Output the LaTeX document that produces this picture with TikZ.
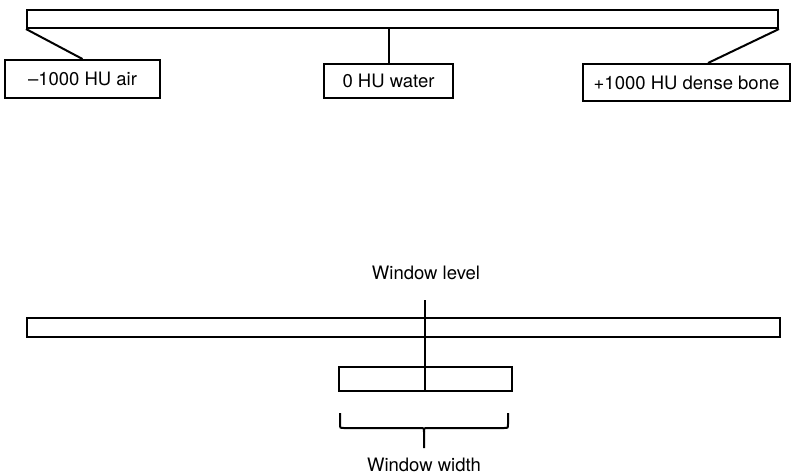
\documentclass[tikz,border=0pt]{standalone}
\usepackage{fontspec}
\setmainfont{TeX Gyre Heros}
\usetikzlibrary{positioning}

\tikzset{
  bar/.style={draw,line width=2pt,inner sep=0pt,minimum height=18pt},
  label box/.style={draw,line width=2pt,inner sep=0pt},
  link/.style={line width=2pt}
}

\begin{document}
\begin{tikzpicture}[x=1pt,y=-1pt,font=\fontsize{18.5}{22}\selectfont]
\useasboundingbox (0,0) rectangle (797,475);

% full CT number scale
\node[bar,minimum width=751pt] (scale) at (402.5,19) {};
\node[label box,minimum width=155pt,minimum height=38pt] (air) at (82.5,79) {\textendash1000 HU air};
\node[label box,minimum width=129pt,minimum height=34pt] (water) at (388.5,81) {0 HU water};
\node[label box,minimum width=207pt,minimum height=37pt] (bone) at (686.5,82.5) {+1000 HU dense bone};
\draw[link] (scale.south west) -- (air.north);
\draw[link] (water.north) -- (water.north |- scale.south);
\draw[link] (scale.south east) -- ([xshift=21.5pt]bone.north);

% window setting
\node (level) at (426,273) {Window level};
\coordinate (top) at (425,300);
\node[bar,minimum width=753pt,minimum height=19pt] (range) at (403.5,327.5) {};
\node[label box,minimum width=173pt,minimum height=24pt] (win) at (425.5,379) {};
\draw[link] (top) -- (top |- win.south);
\draw[link] (340,413) -- (340,424) .. controls (340,428) .. (344,428)
  -- (420,428) .. controls (424,428) .. (424,432) -- (424,448);
\draw[link] (508,413) -- (508,424) .. controls (508,428) .. (504,428)
  -- (428,428) .. controls (424,428) .. (424,432);
\node (width) at (424,465) {Window width};
\end{tikzpicture}
\end{document}
